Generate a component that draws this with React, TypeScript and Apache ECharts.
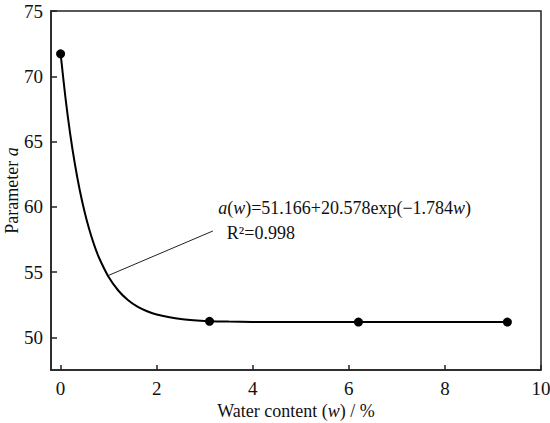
import React, { useEffect, useRef } from "react";
import * as echarts from "echarts";

const pointW = [0, 3.1, 6.2, 9.3];
const pointA = [71.72, 51.23, 51.17, 51.17];

const curveW = [0, 0.1, 0.2, 0.3, 0.4, 0.5, 0.6, 0.7, 0.8, 1.0, 1.2, 1.4, 1.6, 1.8, 2.0, 2.5, 3.0, 3.5, 4.0, 5.0, 6.0, 7.0, 8.0, 9.0, 9.3];
const curveA = [71.74, 68.38, 65.57, 63.22, 61.25, 59.6, 58.22, 57.07, 56.1, 54.62, 53.59, 52.86, 52.35, 52.0, 51.75, 51.4, 51.26, 51.21, 51.18, 51.17, 51.17, 51.17, 51.17, 51.17, 51.17];

const xTicks = [0, 2, 4, 6, 8, 10];
const yTicks = [50, 55, 60, 65, 70, 75];

const leaderFrom = [1.0, 54.75];
const leaderTo = [3.17, 58.15];
const eqPos = [3.28, 59.9];
const r2Pos = [3.46, 58.0];

const FONT = "Liberation Serif";

export default function App() {
  const ref = useRef<HTMLDivElement>(null);
  useEffect(() => {
    if (!ref.current) return;
    const chart = echarts.init(ref.current, null, { renderer: "svg" });
    const axisColor = "#222";
    chart.setOption({
      animation: false,
      backgroundColor: "#fff",
      grid: {
        left: 51,
        right: 9,
        top: 11,
        bottom: 53,
        containLabel: false,
        outerBoundsMode: "none",
        show: true,
        borderColor: axisColor,
        borderWidth: 1.5,
        backgroundColor: "transparent",
      },
      xAxis: {
        type: "value",
        min: -0.2,
        max: 10,
        name: "Water content ({i|w}) / %",
        nameLocation: "middle",
        nameGap: 32,
        nameMoveOverlap: false,
        nameTextStyle: {
          fontFamily: FONT,
          fontSize: 18,
          color: "#111",
          rich: { i: { fontFamily: FONT, fontSize: 18, fontStyle: "italic", color: "#111" } },
        },
        splitLine: { show: false },
        axisLine: { show: true, onZero: false, lineStyle: { color: axisColor, width: 1.5 } },
        axisTick: { show: true, inside: true, length: 5, customValues: xTicks, lineStyle: { color: axisColor, width: 1.5 } },
        axisLabel: { customValues: xTicks, fontFamily: FONT, fontSize: 19, color: "#111", margin: 9 },
      },
      yAxis: {
        type: "value",
        min: 47.5,
        max: 75,
        name: "Parameter {i|a}",
        nameLocation: "middle",
        nameGap: 30,
        nameMoveOverlap: false,
        nameTextStyle: {
          fontFamily: FONT,
          fontSize: 18,
          color: "#111",
          rich: { i: { fontFamily: FONT, fontSize: 18, fontStyle: "italic", color: "#111" } },
        },
        splitLine: { show: false },
        axisLine: { show: true, onZero: false, lineStyle: { color: axisColor, width: 1.5 } },
        axisTick: { show: true, inside: true, length: 6, customValues: yTicks, lineStyle: { color: axisColor, width: 1.5 } },
        axisLabel: { customValues: yTicks, fontFamily: FONT, fontSize: 19, color: "#111", margin: 8 },
      },
      series: [
        {
          type: "line",
          data: curveW.map((w, i) => [w, curveA[i]]),
          showSymbol: false,
          smooth: 0.3,
          lineStyle: { color: "#000", width: 2 },
          silent: true,
          z: 2,
        },
        {
          type: "scatter",
          data: pointW.map((w, i) => [w, pointA[i]]),
          symbol: "circle",
          symbolSize: 9,
          itemStyle: { color: "#000", opacity: 1 },
          z: 3,
        },
      ],
    });
    const px = (p: number[]) => chart.convertToPixel({ gridIndex: 0 }, p) as number[];
    const a = px(leaderFrom);
    const b = px(leaderTo);
    const e = px(eqPos);
    const r = px(r2Pos);
    const rich = {
      n: { fontFamily: FONT, fontSize: 18, fill: "#111" },
      i: { fontFamily: FONT, fontSize: 18, fontStyle: "italic", fill: "#111" },
    };
    chart.setOption({
      graphic: [
        {
          type: "line",
          shape: { x1: a[0], y1: a[1], x2: b[0], y2: b[1] },
          style: { stroke: "#222", lineWidth: 1 },
          z: 10,
        },
        {
          type: "text",
          x: e[0],
          y: e[1],
          style: {
            text: "{i|a}{n|(}{i|w}{n|)=51.166+20.578exp(\u22121.784}{i|w}{n|)}",
            rich,
            verticalAlign: "middle",
            align: "left",
          },
          z: 10,
        },
        {
          type: "text",
          x: r[0],
          y: r[1],
          style: {
            text: "{n|R\u00b2=0.998}",
            rich,
            verticalAlign: "middle",
            align: "left",
          },
          z: 10,
        },
      ],
    });
    return () => chart.dispose();
  }, []);
  return <div ref={ref} style={{ position: "fixed", left: 0, top: 0, width: 550, height: 423 }} />;
}
